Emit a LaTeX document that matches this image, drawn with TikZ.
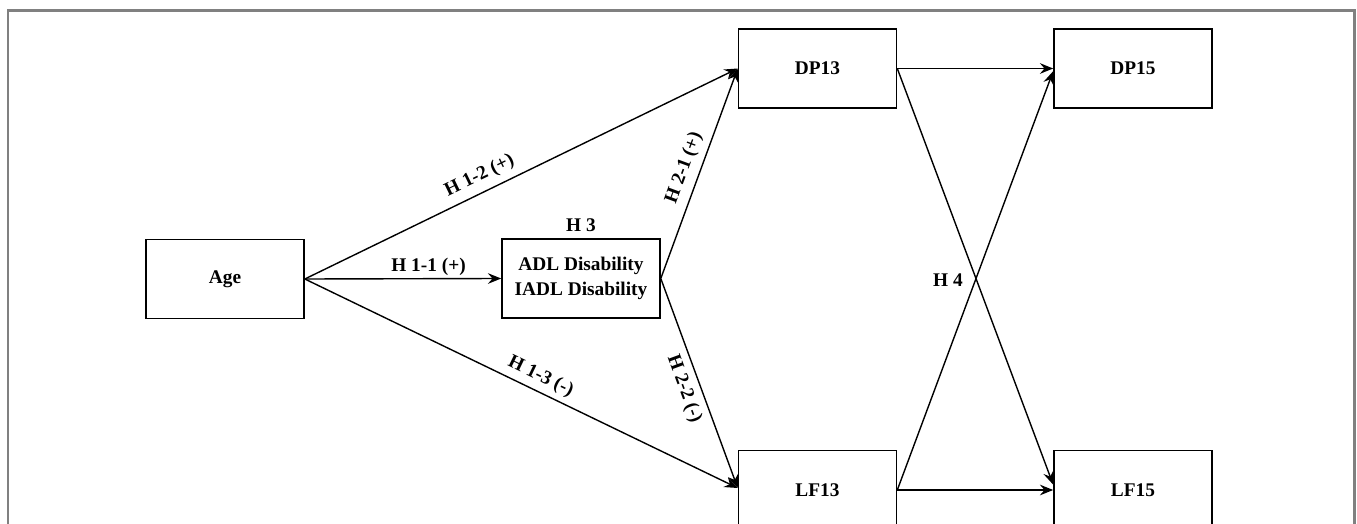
\documentclass[tikz,border=0pt]{standalone}
\usepackage{fontspec}
\setmainfont{Liberation Serif}
\usetikzlibrary{arrows.meta}
\begin{document}
\begin{tikzpicture}[x=0.75pt,y=-0.75pt,
  box/.style={draw=black,line width=1.2pt,minimum width=118.5pt,minimum height=59.5pt,inner sep=0pt,align=center,font=\fontsize{14.5}{18.75}\selectfont\bfseries},
  lbl/.style={font=\fontsize{14.5}{17}\selectfont\bfseries,inner sep=3pt},
  arr/.style={line width=1.05pt,-{Stealth[length=10pt,width=8pt,inset=3.5pt]}}]
\useasboundingbox (0,0) rectangle (1357,524);
\clip (0,0) rectangle (1357,524);
\draw[line width=1.6pt,color=gray] (8,10.5) rectangle (1354.5,540);
\node[box] (age) at (225,279) {Age};
\node[box] (adl) at (581,278.5) {ADL Disability\\IADL Disability};
\node[box] (dp13) at (817.5,68.5) {DP13};
\node[box] (dp15) at (1133,68.5) {DP15};
\node[box] (lf13) at (817.5,490) {LF13};
\node[box] (lf15) at (1133,490) {LF15};
\node[lbl] (h3) at (581,225) {H 3};
\node[lbl] (h4) at (948,280) {H 4};
\draw[arr] (age.east) -- node[lbl,above,pos=0.63,inner sep=1.5pt] {H 1-1 (+)} (adl.west);
\draw[arr] (age.east) -- node[lbl,sloped,above,pos=0.42,yshift=2pt] {H 1-2 (+)} (dp13.west);
\draw[arr] (age.east) -- node[lbl,sloped,above,pos=0.53,yshift=1pt] {H 1-3 (-)} ([yshift=1.5pt]lf13.west);
\draw[arr] (adl.east) -- node[lbl,sloped,above,pos=0.5,yshift=2pt] {H 2-1 (+)} (dp13.west);
\draw[arr] (adl.east) -- node[lbl,sloped,below,pos=0.5,yshift=-2pt] {H 2-2 (-)} ([yshift=1.5pt]lf13.west);
\draw[arr] (dp13.east) -- (dp15.west);
\draw[arr] (dp13.east) -- ([yshift=4pt]lf15.west);
\draw[arr] (lf13.east) -- ([yshift=-2pt]dp15.west);
\draw[arr] (lf13.east) -- (lf15.west);
\end{tikzpicture}
\end{document}
